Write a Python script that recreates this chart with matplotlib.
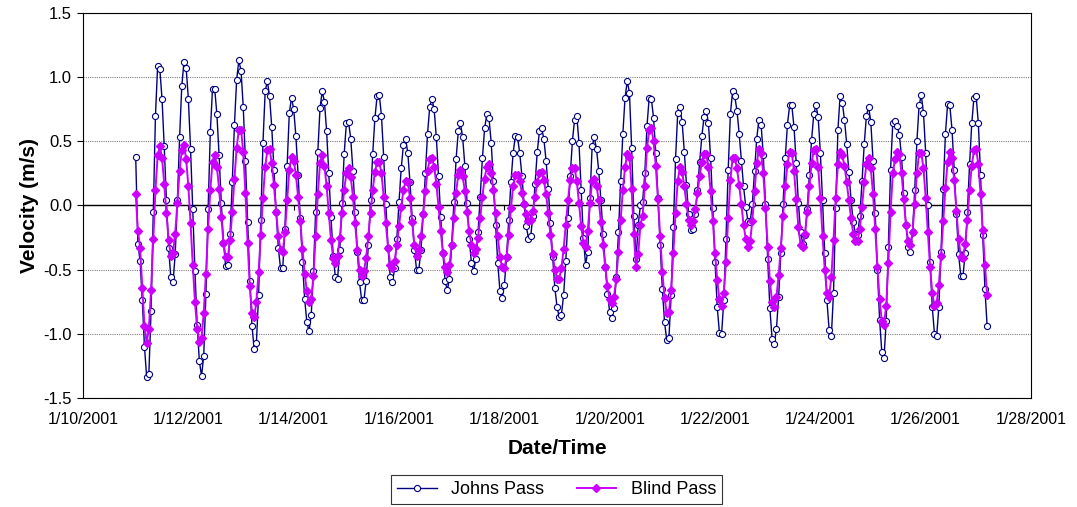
import numpy as np
import pandas as pd
import matplotlib
matplotlib.use("Agg")
import matplotlib.pyplot as plt
import matplotlib.dates as mdates
from matplotlib.ticker import FuncFormatter, MultipleLocator

plt.rcParams["font.family"] = ["Liberation Sans", "DejaVu Sans"]

# hourly velocities (m/s), starting 1/11/2001 00:00, one row per day
johns_pass = [
    0.38, -0.30, -0.43, -0.74, -1.10, -1.34, -1.31, -0.82, -0.05, 0.70, 1.09, 1.06,
    0.83, 0.46, 0.04, -0.33, -0.56, -0.60, -0.38, 0.04, 0.53, 0.93, 1.12, 1.07,
    0.83, 0.44, -0.03, -0.51, -0.93, -1.21, -1.33, -1.17, -0.69, -0.03, 0.57, 0.91,
    0.91, 0.71, 0.39, 0.02, -0.29, -0.47, -0.46, -0.22, 0.18, 0.63, 0.98, 1.13,
    1.05, 0.77, 0.35, -0.13, -0.59, -0.94, -1.12, -1.07, -0.70, -0.11, 0.49, 0.89,
    0.97, 0.85, 0.61, 0.28, -0.05, -0.33, -0.49, -0.49, -0.18, 0.31, 0.72, 0.84,
    0.75, 0.54, 0.24, -0.10, -0.44, -0.73, -0.91, -0.98, -0.85, -0.51, -0.05, 0.42,
    0.76, 0.89, 0.81, 0.58, 0.25, -0.09, -0.39, -0.56, -0.57, -0.35, 0.02, 0.40,
    0.64, 0.65, 0.52, 0.27, -0.05, -0.36, -0.60, -0.74, -0.74, -0.59, -0.31, 0.04,
    0.40, 0.68, 0.85, 0.86, 0.70, 0.38, 0.01, -0.33, -0.56, -0.60, -0.49, -0.26,
    0.03, 0.29, 0.47, 0.52, 0.41, 0.18, -0.10, -0.35, -0.50, -0.50, -0.35, -0.07,
    0.25, 0.56, 0.77, 0.83, 0.75, 0.53, 0.23, -0.09, -0.37, -0.59, -0.66, -0.57,
    -0.31, 0.03, 0.36, 0.58, 0.64, 0.53, 0.31, 0.02, -0.26, -0.45, -0.51, -0.42,
    -0.21, 0.07, 0.37, 0.60, 0.71, 0.68, 0.49, 0.19, -0.15, -0.45, -0.67, -0.72,
    -0.62, -0.40, -0.11, 0.18, 0.41, 0.54, 0.53, 0.41, 0.23, 0.01, -0.16, -0.26,
    -0.24, -0.08, 0.17, 0.42, 0.58, 0.60, 0.52, 0.35, 0.13, -0.14, -0.40, -0.64,
    -0.79, -0.87, -0.85, -0.70, -0.43, -0.10, 0.23, 0.50, 0.67, 0.70, 0.49, 0.12,
    -0.25, -0.46, -0.36, 0.06, 0.46, 0.53, 0.44, 0.27, 0.04, -0.22, -0.48, -0.69,
    -0.83, -0.88, -0.80, -0.56, -0.21, 0.19, 0.56, 0.84, 0.97, 0.88, 0.45, -0.08,
    -0.42, -0.15, 0.00, 0.03, 0.25, 0.62, 0.84, 0.83, 0.68, 0.41, 0.06, -0.31,
    -0.65, -0.91, -1.05, -1.03, -0.70, -0.17, 0.36, 0.72, 0.77, 0.65, 0.42, 0.16,
    -0.07, -0.19, -0.18, -0.07, 0.12, 0.34, 0.54, 0.69, 0.74, 0.64, 0.37, -0.02,
    -0.44, -0.79, -0.99, -1.00, -0.74, -0.26, 0.28, 0.71, 0.89, 0.85, 0.74, 0.56,
    0.35, 0.15, -0.01, -0.12, -0.13, 0.01, 0.27, 0.52, 0.67, 0.63, 0.39, 0.01,
    -0.42, -0.80, -1.04, -1.08, -0.96, -0.71, -0.37, 0.01, 0.37, 0.63, 0.78, 0.78,
    0.61, 0.33, 0.02, -0.21, -0.30, -0.23, -0.03, 0.24, 0.51, 0.71, 0.78, 0.69,
    0.41, 0.04, -0.37, -0.74, -0.97, -1.02, -0.68, -0.02, 0.59, 0.85, 0.80, 0.67,
    0.48, 0.26, 0.04, -0.13, -0.22, -0.23, -0.08, 0.19, 0.48, 0.70, 0.77, 0.65,
    0.35, -0.06, -0.50, -0.89, -1.14, -1.19, -0.90, -0.32, 0.28, 0.64, 0.66, 0.62,
    0.55, 0.38, 0.10, -0.15, -0.32, -0.36, -0.21, 0.12, 0.50, 0.78, 0.86, 0.72,
    0.41, 0.00, -0.44, -0.79, -1.00, -1.02, -0.79, -0.36, 0.13, 0.56, 0.79, 0.78,
    0.59, 0.28, -0.07, -0.38, -0.55, -0.55, -0.37, -0.05, 0.32, 0.64, 0.84, 0.85,
    0.64, 0.24, -0.23, -0.65, -0.94,
]

blind_pass = [
    0.09, -0.20, -0.33, -0.64, -0.94, -1.07, -0.96, -0.66, -0.26, 0.12, 0.39, 0.46,
    0.37, 0.17, -0.06, -0.27, -0.39, -0.37, -0.22, 0.02, 0.27, 0.43, 0.47, 0.36,
    0.15, -0.14, -0.46, -0.75, -0.96, -1.06, -1.03, -0.84, -0.53, -0.18, 0.12, 0.34,
    0.39, 0.30, 0.13, -0.09, -0.29, -0.40, -0.40, -0.27, -0.05, 0.21, 0.45, 0.59,
    0.59, 0.42, 0.10, -0.29, -0.63, -0.84, -0.87, -0.75, -0.52, -0.23, 0.06, 0.30,
    0.43, 0.44, 0.33, 0.16, -0.05, -0.24, -0.35, -0.36, -0.21, 0.04, 0.28, 0.38,
    0.35, 0.24, 0.07, -0.12, -0.34, -0.53, -0.67, -0.75, -0.73, -0.55, -0.24, 0.09,
    0.33, 0.39, 0.31, 0.15, -0.06, -0.27, -0.41, -0.45, -0.39, -0.25, -0.06, 0.12,
    0.25, 0.29, 0.22, 0.07, -0.14, -0.35, -0.50, -0.55, -0.51, -0.41, -0.24, -0.06,
    0.12, 0.26, 0.34, 0.34, 0.25, 0.07, -0.14, -0.33, -0.46, -0.49, -0.43, -0.31,
    -0.16, -0.01, 0.12, 0.19, 0.18, 0.06, -0.13, -0.31, -0.39, -0.35, -0.24, -0.07,
    0.11, 0.27, 0.36, 0.37, 0.30, 0.17, -0.01, -0.20, -0.37, -0.48, -0.52, -0.46,
    -0.31, -0.10, 0.10, 0.24, 0.28, 0.23, 0.11, -0.05, -0.20, -0.31, -0.37, -0.34,
    -0.25, -0.10, 0.07, 0.21, 0.30, 0.32, 0.25, 0.12, -0.06, -0.24, -0.40, -0.48,
    -0.49, -0.40, -0.23, -0.02, 0.15, 0.24, 0.24, 0.19, 0.10, 0.01, -0.07, -0.12,
    -0.11, -0.04, 0.07, 0.18, 0.25, 0.26, 0.20, 0.09, -0.06, -0.23, -0.38, -0.50,
    -0.57, -0.57, -0.49, -0.34, -0.15, 0.04, 0.20, 0.29, 0.29, 0.19, 0.02, -0.16,
    -0.29, -0.32, -0.20, 0.02, 0.19, 0.21, 0.15, 0.04, -0.13, -0.31, -0.48, -0.63,
    -0.73, -0.76, -0.71, -0.57, -0.36, -0.11, 0.12, 0.30, 0.40, 0.38, 0.13, -0.22,
    -0.48, -0.38, -0.15, -0.08, 0.15, 0.45, 0.59, 0.60, 0.50, 0.31, 0.05, -0.24,
    -0.52, -0.72, -0.84, -0.83, -0.66, -0.37, -0.06, 0.19, 0.30, 0.26, 0.15, 0.01,
    -0.11, -0.15, -0.12, -0.03, 0.10, 0.23, 0.34, 0.40, 0.40, 0.30, 0.11, -0.12,
    -0.37, -0.58, -0.73, -0.78, -0.68, -0.44, -0.10, 0.20, 0.37, 0.37, 0.29, 0.16,
    0.01, -0.15, -0.26, -0.32, -0.28, -0.12, 0.11, 0.33, 0.44, 0.41, 0.25, -0.02,
    -0.32, -0.59, -0.75, -0.79, -0.71, -0.54, -0.33, -0.08, 0.15, 0.32, 0.42, 0.41,
    0.27, 0.05, -0.17, -0.31, -0.32, -0.22, -0.05, 0.15, 0.33, 0.43, 0.44, 0.30,
    0.06, -0.24, -0.50, -0.68, -0.71, -0.56, -0.27, 0.06, 0.32, 0.42, 0.39, 0.31,
    0.18, 0.04, -0.10, -0.22, -0.28, -0.28, -0.18, -0.01, 0.18, 0.32, 0.37, 0.29,
    0.09, -0.18, -0.48, -0.73, -0.90, -0.93, -0.78, -0.45, -0.05, 0.25, 0.36, 0.42,
    0.40, 0.25, 0.05, -0.15, -0.28, -0.31, -0.21, 0.01, 0.25, 0.41, 0.41, 0.29,
    0.06, -0.21, -0.48, -0.68, -0.78, -0.76, -0.62, -0.39, -0.12, 0.14, 0.34, 0.42,
    0.37, 0.20, -0.04, -0.26, -0.40, -0.41, -0.30, -0.11, 0.12, 0.31, 0.43, 0.44,
    0.32, 0.09, -0.19, -0.46, -0.70,
]

times = pd.date_range("2001-01-11 00:00", periods=len(johns_pass), freq="h")
date_ticks = pd.date_range("2001-01-10", "2001-01-28", freq="2D")

fig = plt.figure(figsize=(10.77, 5.07), dpi=100)
ax = fig.add_axes([0.0771, 0.2150, 0.8802, 0.7594])

ax.plot(times, johns_pass, color="#000080", lw=1.0, marker="o", ms=4.4,
        mfc="white", mec="#000080", mew=0.8, label="Johns Pass", zorder=3)
ax.plot(times, blind_pass, color="#cc00ff", lw=1.4, marker="D", ms=4.2,
        mfc="#cc00ff", mec="#cc00ff", label="Blind Pass", zorder=4)

# Excel-style zero line with small ticks on it
ax.axhline(0, color="black", lw=1.0, zorder=2)
ax.vlines(date_ticks, -0.035, 0, color="black", lw=0.8, zorder=2)

ax.set_xlim(date_ticks[0], date_ticks[-1])
ax.set_ylim(-1.5, 1.5)
ax.set_xticks(date_ticks)
ax.xaxis.set_major_formatter(FuncFormatter(
    lambda v, p: "{0.month}/{0.day}/{0.year}".format(mdates.num2date(v))))
ax.yaxis.set_major_locator(MultipleLocator(0.5))
ax.yaxis.set_major_formatter(FuncFormatter(lambda v, p: f"{v:.1f}"))

ax.tick_params(axis="x", length=0, pad=10, labelsize=11.5)
ax.tick_params(axis="y", length=4, width=0.8, pad=4, labelsize=12)

ax.yaxis.grid(True, linestyle=(0, (1, 1)), color="#7f7f7f", lw=0.8)
ax.set_axisbelow(True)
for s in ax.spines.values():
    s.set_color("black")
    s.set_linewidth(0.8)

ax.set_ylabel("Velocity (m/s)", fontsize=15, fontweight="bold", labelpad=3)
ax.set_xlabel("Date/Time", fontsize=15, fontweight="bold", labelpad=9)

leg = fig.legend(loc="center", bbox_to_anchor=(0.5167, 0.0345), ncol=2,
                 fontsize=13, frameon=True, fancybox=False, edgecolor="black",
                 handlelength=2.2, columnspacing=1.8, borderpad=0.35)
leg.get_frame().set_linewidth(0.8)

fig.savefig("out.png", dpi=100)
